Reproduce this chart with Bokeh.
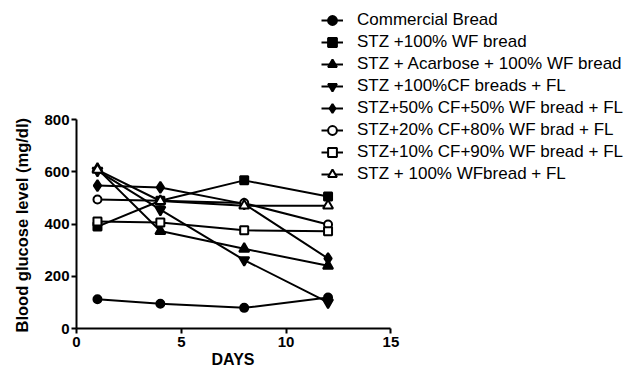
from bokeh.plotting import figure
from bokeh.models import Legend, LegendItem, Range1d, FixedTicker, Title
from bokeh.embed import file_html
from bokeh.resources import INLINE

days = [1, 4, 8, 12]
series_names = [
    "Commercial Bread",
    "STZ +100% WF bread",
    "STZ + Acarbose + 100% WF bread",
    "STZ +100%CF breads + FL",
    "STZ+50% CF+50% WF bread + FL",
    "STZ+20% CF+80% WF brad + FL",
    "STZ+10% CF+90% WF bread + FL",
    "STZ + 100% WFbread + FL",
]
commercial = [112, 95, 79, 119]
wf100 = [390, 489, 567, 505]
acarbose = [611, 373, 305, 240]
cf100_fl = [604, 455, 262, 100]
cf50_wf50 = [547, 540, 477, 268]
cf20_wf80 = [494, 489, 480, 398]
cf10_wf90 = [410, 406, 376, 372]
wf100_fl = [607, 488, 470, 470]
series_values = [commercial, wf100, acarbose, cf100_fl, cf50_wf50, cf20_wf80, cf10_wf90, wf100_fl]
markers = ["circle", "square", "triangle", "inverted_triangle", "diamond", "circle", "square", "triangle"]
marker_sizes = [8, 8, 10, 10, 11, 8, 8, 10]
filled = [True, True, True, True, True, False, False, False]
x_ticks = [0, 5, 10, 15]
y_ticks = [0, 200, 400, 600, 800]
x_axis_max = 15
y_axis_max = 800

W, H = 633, 375
BL, BB = 75, 47
FRAME_W = W - BL
FRAME_H = H - BB
PX_PER_DAY = 21.0
PX_PER_UNIT = 209.0 / 800.0

p = figure(width=W, height=H, output_backend="svg", toolbar_location=None,
           x_range=Range1d(0, FRAME_W / PX_PER_DAY), y_range=Range1d(0, FRAME_H / PX_PER_UNIT),
           min_border_left=BL, min_border_right=0, min_border_top=0, min_border_bottom=BB)
p.outline_line_color = None
p.grid.visible = False
p.background_fill_color = "white"
p.border_fill_color = "white"

p.xaxis.bounds = (0, x_axis_max)
p.yaxis.bounds = (0, y_axis_max)
for ax, ticks in ((p.xaxis, x_ticks), (p.yaxis, y_ticks)):
    ax.ticker = FixedTicker(ticks=ticks)
    ax.axis_line_width = 2
    ax.major_tick_line_width = 2
    ax.major_tick_out = 5
    ax.major_tick_in = 0
    ax.minor_tick_line_color = None
    ax.major_label_text_font = "Liberation Sans"
    ax.major_label_text_font_style = "bold"
    ax.major_label_text_font_size = "15px"
    ax.major_label_text_color = "black"
    ax.axis_line_color = "black"
    ax.major_tick_line_color = "black"
p.xaxis.major_label_standoff = 3
p.yaxis.major_label_standoff = 2

ylab = Title(text="Blood glucose level (mg/dl)", align="left", offset=-4, standoff=21,
             vertical_align="bottom",
             text_font="Liberation Sans", text_font_style="bold", text_font_size="16.5px",
             text_color="black")
p.add_layout(ylab, "left")
xlab = Title(text="DAYS", align="left", offset=135, standoff=2, vertical_align="top",
             text_font="Liberation Sans", text_font_style="bold", text_font_size="16px",
             text_color="black")
p.add_layout(xlab, "below")

items = []
for name, vals, mk, sz, fl in zip(series_names, series_values, markers, marker_sizes, filled):
    ln = p.line(days, vals, line_color="black", line_width=2)
    sc = p.scatter(days, vals, marker=mk, size=sz,
                   line_color="black", line_width=2,
                   fill_color="black" if fl else "white")
    items.append(LegendItem(label=name, renderers=[ln, sc]))

legend = Legend(items=items, location=(245, 143))
legend.margin = 0
legend.padding = 0
legend.spacing = 0
legend.glyph_width = 22
legend.glyph_height = 22
legend.label_height = 22
legend.label_standoff = 14
legend.border_line_color = None
legend.background_fill_alpha = 0
legend.label_text_font = "Liberation Sans"
legend.label_text_font_size = "17px"
legend.label_text_color = "black"
p.add_layout(legend, "center")

open("out.html", "w").write(file_html(p, INLINE))
